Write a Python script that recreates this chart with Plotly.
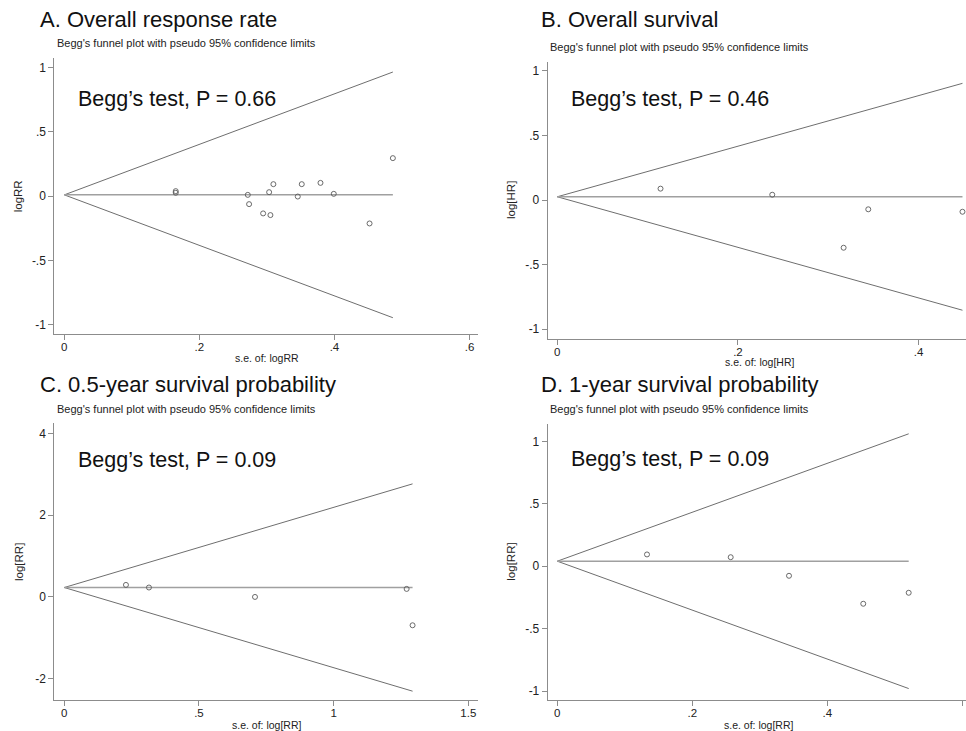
import plotly.graph_objects as go

W, H = 966, 731

# ---------------- data ----------------
panel_titles = ["A. Overall response rate", "B. Overall survival",
                "C. 0.5-year survival probability", "D. 1-year survival probability"]
subtitle = "Begg's funnel plot with pseudo 95% confidence limits"
begg_texts = ["Begg’s test, P = 0.66", "Begg’s test, P = 0.46",
              "Begg’s test, P = 0.09", "Begg’s test, P = 0.09"]
y_titles = ["logRR", "log[HR]", "log[RR]", "log[RR]"]
x_titles = ["s.e. of: logRR", "s.e. of: log[HR]", "s.e. of: log[RR]", "s.e. of: log[RR]"]

# A. Overall response rate
a_se = [0.165, 0.165, 0.2717, 0.2736, 0.2944, 0.3033, 0.3052, 0.3096, 0.3457,
        0.3516, 0.3793, 0.399, 0.452, 0.4865]
a_eff = [0.039, 0.026, 0.010, -0.062, -0.134, 0.031, -0.147, 0.093, -0.003,
         0.093, 0.103, 0.018, -0.212, 0.295]
a_pooled = 0.010

# B. Overall survival
b_se = [0.1143, 0.238, 0.317, 0.3443, 0.4486]
b_eff = [0.088, 0.041, -0.370, -0.072, -0.091]
b_pooled = 0.025

# C. 0.5-year survival probability
c_se = [0.229, 0.3144, 0.708, 1.271, 1.293]
c_eff = [0.294, 0.230, 0.000, 0.196, -0.693]
c_pooled = 0.230

# D. 1-year survival probability
d_se = [0.1329, 0.2569, 0.3433, 0.4533, 0.5206]
d_eff = [0.094, 0.072, -0.077, -0.301, -0.213]
d_pooled = 0.040

# tick labels
a_xt = [0, 0.2, 0.4, 0.6]; a_xl = ["0", ".2", ".4", ".6"]
a_yt = [-1, -0.5, 0, 0.5, 1]; a_yl = ["-1", "-.5", "0", ".5", "1"]
b_xt = [0, 0.2, 0.4]; b_xl = ["0", ".2", ".4"]
b_yt = [-1, -0.5, 0, 0.5, 1]; b_yl = ["-1", "-.5", "0", ".5", "1"]
c_xt = [0, 0.5, 1, 1.5]; c_xl = ["0", ".5", "1", "1.5"]
c_yt = [-2, 0, 2, 4]; c_yl = ["-2", "0", "2", "4"]
d_xt = [0, 0.2, 0.4, 0.6]; d_xl = ["0", ".2", ".4", ".6"]
d_yt = [-1, -0.5, 0, 0.5, 1]; d_yl = ["-1", "-.5", "0", ".5", "1"]

panels = [
    dict(se=a_se, eff=a_eff, pooled=a_pooled, xt=a_xt, xl=a_xl, yt=a_yt, yl=a_yl),
    dict(se=b_se, eff=b_eff, pooled=b_pooled, xt=b_xt, xl=b_xl, yt=b_yt, yl=b_yl),
    dict(se=c_se, eff=c_eff, pooled=c_pooled, xt=c_xt, xl=c_xl, yt=c_yt, yl=c_yl),
    dict(se=d_se, eff=d_eff, pooled=d_pooled, xt=d_xt, xl=d_xl, yt=d_yt, yl=d_yl),
]

# ---------------- layout geometry (pixels) ----------------
# plot area boxes: (left, right, top, bottom) in pixels
boxes = [(54.3, 478.3, 58.3, 334.0),
         (547.7, 966.0, 61.7, 338.7),
         (54.3, 478.3, 423.3, 700.0),
         (547.7, 966.0, 424.0, 700.0)]
xranges = [[-0.0148, 0.613], [-0.0106, 0.4525], [-0.037, 1.537], [-0.0142, 0.6055]]
yranges = [[-1.07, 1.07], [-1.075, 1.072], [-2.52, 4.245], [-1.072, 1.139]]

title_pos = [(37.7, 19), (539.3, 19), (37.7, 384), (539.3, 384.5)]
sub_pos = [(55, 43.3), (548.3, 47.3), (55, 409.3), (548.3, 409.3)]
begg_pos = [(76, 99), (569.3, 99), (76, 460), (569.3, 459)]
ytitle_pos = [(18.3, 196), (511, 200), (18.3, 561.7), (511, 561.7)]
xtitle_pos = [(266.7, 358), (760, 362), (266.7, 724.5), (759.3, 724.5)]


def px(x):
    return x / W


def py(y):
    return 1 - y / H


FONT = "Arial, Liberation Sans, Helvetica, sans-serif"
AXIS_COLOR = "#8c8c8c"
LINE_COLOR = "#6e6e6e"
MEAN_COLOR = "#a0a0a0"
MARK_COLOR = "#5a5a5a"

fig = go.Figure()
layout_axes = {}
annotations = []

for i, p in enumerate(panels):
    n = i + 1
    xa = "x" if n == 1 else f"x{n}"
    ya = "y" if n == 1 else f"y{n}"
    se_max = max(p["se"])
    se_line = [0, se_max]
    upper = [p["pooled"] + 1.96 * s for s in se_line]
    lower = [p["pooled"] - 1.96 * s for s in se_line]
    fig.add_trace(go.Scatter(x=se_line, y=upper, mode="lines", xaxis=xa, yaxis=ya,
                             line=dict(color=LINE_COLOR, width=1), showlegend=False,
                             hoverinfo="skip"))
    fig.add_trace(go.Scatter(x=se_line, y=lower, mode="lines", xaxis=xa, yaxis=ya,
                             line=dict(color=LINE_COLOR, width=1), showlegend=False,
                             hoverinfo="skip"))
    fig.add_trace(go.Scatter(x=se_line, y=[p["pooled"], p["pooled"]], mode="lines",
                             xaxis=xa, yaxis=ya,
                             line=dict(color=MEAN_COLOR, width=1.5), showlegend=False,
                             hoverinfo="skip"))
    fig.add_trace(go.Scatter(x=p["se"], y=p["eff"], mode="markers", xaxis=xa, yaxis=ya,
                             marker=dict(symbol="circle-open", size=5,
                                         color=MARK_COLOR, line=dict(width=0.9)),
                             showlegend=False))

    l, r, t, b = boxes[i]
    xkey = "xaxis" if n == 1 else f"xaxis{n}"
    ykey = "yaxis" if n == 1 else f"yaxis{n}"
    layout_axes[xkey] = dict(
        domain=[px(l), min(px(r), 1.0)], anchor=ya, range=xranges[i],
        showgrid=False, zeroline=False, showline=True, linecolor=AXIS_COLOR,
        linewidth=1, ticks="outside", ticklen=5, tickcolor=AXIS_COLOR,
        ticklabelstandoff=-3,
        tickvals=p["xt"], ticktext=p["xl"],
        tickfont=dict(family=FONT, size=11.5, color="#222222"))
    layout_axes[ykey] = dict(
        domain=[py(b), py(t)], anchor=xa, range=yranges[i],
        showgrid=False, zeroline=False, showline=True, linecolor=AXIS_COLOR,
        linewidth=1, ticks="outside", ticklen=5, tickcolor=AXIS_COLOR,
        tickvals=p["yt"], ticktext=p["yl"],
        tickfont=dict(family=FONT, size=12, color="#222222"))

    tx, ty = title_pos[i]
    annotations.append(dict(text=panel_titles[i], x=px(tx), y=py(ty), xref="paper",
                            yref="paper", xanchor="left", yanchor="middle",
                            showarrow=False,
                            font=dict(family=FONT, size=22, color="#111111")))
    sx, sy = sub_pos[i]
    annotations.append(dict(text=subtitle, x=px(sx), y=py(sy), xref="paper",
                            yref="paper", xanchor="left", yanchor="middle",
                            showarrow=False,
                            font=dict(family=FONT, size=11, color="#222222")))
    bx, by = begg_pos[i]
    annotations.append(dict(text=begg_texts[i], x=px(bx), y=py(by), xref="paper",
                            yref="paper", xanchor="left", yanchor="middle",
                            showarrow=False,
                            font=dict(family=FONT, size=21.5, color="#111111")))
    yx, yy = ytitle_pos[i]
    annotations.append(dict(text=y_titles[i], x=px(yx), y=py(yy), xref="paper",
                            yref="paper", xanchor="center", yanchor="middle",
                            textangle=-90, showarrow=False,
                            font=dict(family=FONT, size=11.5, color="#222222")))
    xx, xy = xtitle_pos[i]
    annotations.append(dict(text=x_titles[i], x=px(xx), y=py(xy), xref="paper",
                            yref="paper", xanchor="center", yanchor="middle",
                            showarrow=False,
                            font=dict(family=FONT, size=10.5, color="#222222")))

fig.update_layout(
    width=W, height=H,
    margin=dict(l=0, r=0, t=0, b=0),
    paper_bgcolor="white", plot_bgcolor="white",
    annotations=annotations,
    **layout_axes,
)

fig.write_html("out.html", config={"displayModeBar": False})
